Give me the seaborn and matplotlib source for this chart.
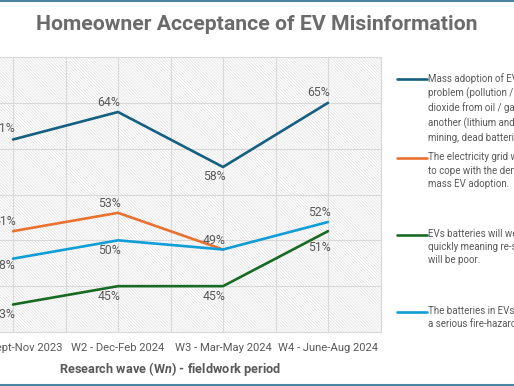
import matplotlib
matplotlib.use('Agg')
import matplotlib.pyplot as plt
from matplotlib.patches import Rectangle
from matplotlib.lines import Line2D
import seaborn as sns
import pandas as pd
import numpy as np

# data
waves = ['W1 - Sept-Nov 2023', 'W2 - Dec-Feb 2024', 'W3 - Mar-May 2024', 'W4 - June-Aug 2024']
mass_adoption = [61, 64, 58, 65]
grid_cope = [51, 53, 49, np.nan]
battery_wear = [43, 45, 45, 51]
fire_hazard = [48, 50, 49, 52]

series_names = ['mass', 'grid', 'wear', 'fire']
legend_labels = [
    'Mass adoption of EVs will simply move the\nproblem (pollution / carbon\ndioxide from oil / gas) to\nanother (lithium and cobalt\nmining, dead batteries).',
    'The electricity grid will not be able\nto cope with the demand from\nmass EV adoption.',
    'EVs batteries will wear out\nquickly meaning re-sale value\nwill be poor.',
    'The batteries in EVs are\na serious fire-hazard.',
]
colors = ['#156082', '#E97132', '#196B24', '#0F9ED5']

rows = []
for name, vals in zip(series_names, [mass_adoption, grid_cope, battery_wear, fire_hazard]):
    for w, v in zip(waves, vals):
        rows.append({'series': name, 'wave': w, 'value': v})
df = pd.DataFrame(rows).dropna()

# label placement: pixel offset (dy), None = no label
label_dy = {
    'mass': [11, 10, -10, 10],
    'grid': [10, 9, 9, None],
    'wear': [-10, -10, -10, -16],
    'fire': [-7, -10, None, 9],
}

sns.set_theme(style='white')
plt.rcParams['font.family'] = ['Roboto', 'DejaVu Sans']
plt.rcParams['hatch.linewidth'] = 0.5
plt.rcParams['mathtext.fontset'] = 'custom'
plt.rcParams['mathtext.it'] = 'Roboto:italic:bold'

W, H = 514, 386
fig = plt.figure(figsize=(W / 100, H / 100), dpi=100)
fig.patch.set_facecolor('white')
ax = fig.add_axes([-39.5 / W, 1 - 332 / H, 420 / W, 275 / H])

# hatched plot area
ax.add_patch(Rectangle((0, 0), 1, 1, transform=ax.transAxes, facecolor='white',
                       edgecolor='#dedede', hatch='\\' * 11, lw=0, zorder=0))

sns.lineplot(data=df, x='wave', y='value', hue='series', palette=colors,
             hue_order=series_names, sort=False, lw=1.9, legend=False, ax=ax, zorder=3)

ax.set_xlim(-0.5, 3.5)
ax.set_ylim(40, 70)
ax.set_yticks(range(40, 71, 5))
ax.set_yticklabels([])
ax.set_xticks(range(len(waves)))
ax.set_xticks(np.arange(-0.5, 3.6, 0.5), minor=True)
ax.set_xticklabels(waves, fontsize=8.1, color='#595959')
ax.tick_params(axis='both', which='both', length=0)
ax.tick_params(axis='x', pad=8)
ax.set_axisbelow(True)
ax.grid(True, axis='y', color='#d9d9d9', lw=0.8)
ax.grid(True, axis='x', which='both', color='#d9d9d9', lw=0.8)
for s in ax.spines.values():
    s.set_color('#d9d9d9')
    s.set_linewidth(0.8)
ax.set_ylabel('')
ax.set_xlabel('Research wave (W$n$) - fieldwork period', fontsize=9.2, fontweight='bold',
              color='#595959', labelpad=5)

for name, vals in zip(series_names, [mass_adoption, grid_cope, battery_wear, fire_hazard]):
    for i, v in enumerate(vals):
        dy = label_dy[name][i]
        if dy is None or np.isnan(v):
            continue
        ax.annotate(f'{v:.0f}%', (i, v), xytext=(-9, dy), textcoords='offset pixels',
                    ha='center', va='center', fontsize=8.8, color='#595959', zorder=4)

fig.text(257 / W, 1 - 25 / H, 'Homeowner Acceptance of EV Misinformation',
         ha='center', va='center', fontsize=15.3, fontweight='bold', color='#6b6b6b')

# legend on the right, handle level with first text line
legend_y = [79, 158, 235, 312]
for c, lab, y in zip(colors, legend_labels, legend_y):
    fig.add_artist(Line2D([397 / W, 427 / W], [1 - y / H] * 2, transform=fig.transFigure,
                          color=c, lw=1.9))
    fig.text(428 / W, 1 - (y - 6) / H, lab, ha='left', va='top', fontsize=7,
             color='#595959', linespacing=1.38)

# frame lines top and bottom
for y in [0.8, 385]:
    fig.add_artist(Line2D([0, 1], [1 - y / H] * 2, transform=fig.transFigure,
                          color='#4a86a3', lw=1.5))

fig.savefig('out.png', dpi=100)
